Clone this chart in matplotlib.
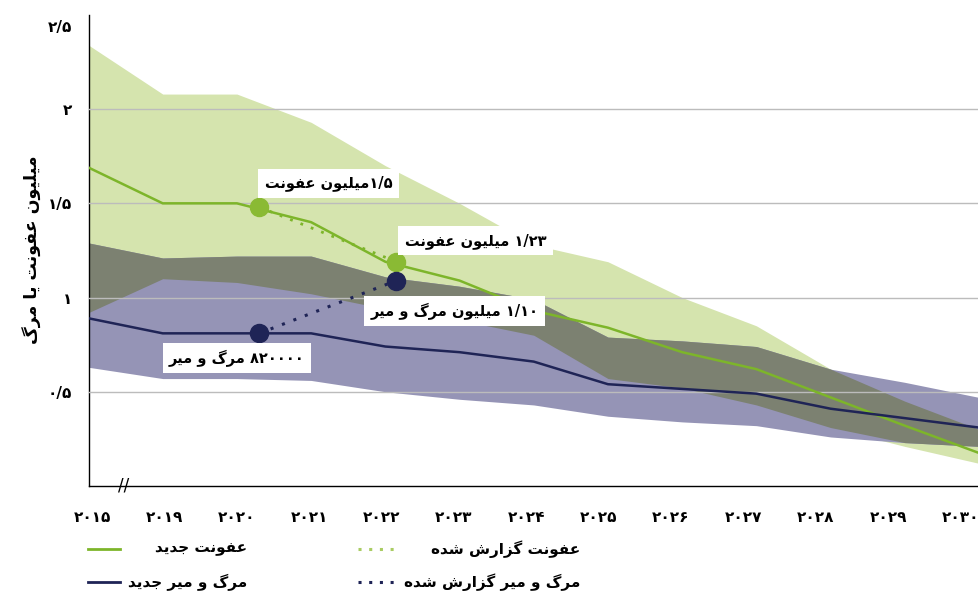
import re
import numpy as np
import matplotlib
matplotlib.use("Agg")
import matplotlib.pyplot as plt
from matplotlib.lines import Line2D
from matplotlib.transforms import ScaledTranslation

# data (million people)
years = ["۲۰۱۵", "۲۰۱۹", "۲۰۲۰", "۲۰۲۱", "۲۰۲۲", "۲۰۲۳", "۲۰۲۴",
         "۲۰۲۵", "۲۰۲۶", "۲۰۲۷", "۲۰۲۸", "۲۰۲۹", "۲۰۳۰"]
new_inf = [1.69, 1.50, 1.50, 1.40, 1.19, 1.09, 0.93, 0.84, 0.71, 0.62, 0.47, 0.32, 0.175]
inf_hi = [2.34, 2.08, 2.08, 1.93, 1.70, 1.50, 1.28, 1.19, 1.00, 0.85, 0.62, 0.45, 0.30]
inf_lo = [0.92, 1.10, 1.08, 1.02, 0.94, 0.88, 0.80, 0.57, 0.52, 0.43, 0.31, 0.21, 0.12]
new_death = [0.89, 0.81, 0.81, 0.81, 0.74, 0.71, 0.66, 0.54, 0.515, 0.49, 0.41, 0.36, 0.31]
death_hi = [1.29, 1.21, 1.22, 1.22, 1.11, 1.06, 0.99, 0.79, 0.77, 0.74, 0.62, 0.55, 0.47]
death_lo = [0.63, 0.57, 0.57, 0.56, 0.50, 0.46, 0.43, 0.37, 0.34, 0.32, 0.26, 0.23, 0.21]

# reported values (position on the year axis, value)
rep_x = [2.3, 4.15]
rep_inf = [1.48, 1.19]
rep_death = [0.81, 1.09]
rep_inf_txt = ["۱/۵میلیون عفونت", "۱/۲۳ میلیون عفونت"]
rep_death_txt = ["۸۲۰۰۰۰ مرگ و میر", "۱/۱۰ میلیون مرگ و میر"]

yticks = [0.5, 1, 1.5, 2, 2.5]
ytick_txt = ["۰/۵", "۱", "۱/۵", "۲", "۲/۵"]
ylabel_txt = "میلیون عفونت یا مرگ"
leg_txt = ["عفونت جدید", "مرگ و میر جدید", "عفونت گزارش شده", "مرگ و میر گزارش شده"]

# --- simple persian shaping (matplotlib has no bidi / joining) ---
FORMS = {
    'ا': ('\uFE8D', '\uFE8E', None, None),
    'د': ('\uFEA9', '\uFEAA', None, None),
    'ر': ('\uFEAD', '\uFEAE', None, None),
    'ز': ('\uFEAF', '\uFEB0', None, None),
    'و': ('\uFEED', '\uFEEE', None, None),
    'ت': ('\uFE95', '\uFE96', '\uFE97', '\uFE98'),
    'ج': ('\uFE9D', '\uFE9E', '\uFE9F', '\uFEA0'),
    'ش': ('\uFEB5', '\uFEB6', '\uFEB7', '\uFEB8'),
    'ع': ('\uFEC9', '\uFECA', '\uFECB', '\uFECC'),
    'ف': ('\uFED1', '\uFED2', '\uFED3', '\uFED4'),
    'ل': ('\uFEDD', '\uFEDE', '\uFEDF', '\uFEE0'),
    'م': ('\uFEE1', '\uFEE2', '\uFEE3', '\uFEE4'),
    'ن': ('\uFEE5', '\uFEE6', '\uFEE7', '\uFEE8'),
    'ه': ('\uFEE9', '\uFEEA', '\uFEEB', '\uFEEC'),
    'گ': ('\uFB92', '\uFB93', '\uFB94', '\uFB95'),
    'ی': ('\uFBFC', '\uFBFD', '\uFBFE', '\uFBFF'),
}
DIG = "۰۱۲۳۴۵۶۷۸۹"


def fa(s):
    out = []
    for i, ch in enumerate(s):
        if ch not in FORMS:
            out.append(ch)
            continue
        iso, fin, ini, med = FORMS[ch]
        prev = s[i - 1] if i > 0 else ''
        nxt = s[i + 1] if i + 1 < len(s) else ''
        jp = prev in FORMS and FORMS[prev][2] is not None
        jn = ini is not None and nxt in FORMS
        if jp and jn:
            out.append(med)
        elif jp:
            out.append(fin)
        elif jn:
            out.append(ini)
        else:
            out.append(iso)
    t = ''.join(out)
    runs = re.findall('[' + DIG + ']+(?:/[' + DIG + ']+)*|[^' + DIG + ']+', t)
    return ''.join(r if r[0] in DIG else r[::-1] for r in reversed(runs))


plt.rcParams['font.family'] = ['DejaVu Sans']
plt.rcParams['font.weight'] = 'bold'

GREEN = '#7db52a'
NAVY = '#1f2456'
LGREEN = '#d5e4ae'
LAV = '#9594b6'
OVER = '#7c8171'

fig = plt.figure(figsize=(9.79, 5.97), dpi=100)
ax = fig.add_axes([0.0904, 0.186, 0.9096, 0.789])

x = np.arange(len(years))
ax.fill_between(x, inf_lo, inf_hi, color=LGREEN, lw=0, zorder=1)
ax.fill_between(x, death_lo, death_hi, color=LAV, lw=0, zorder=1)
ov_lo = np.maximum(inf_lo, death_lo)
ov_hi = np.minimum(inf_hi, death_hi)
ax.fill_between(x, ov_lo, ov_hi, where=ov_hi > ov_lo, interpolate=True,
                color=OVER, lw=0, zorder=1.5)

ax.plot(x, new_inf, color=GREEN, lw=1.8, zorder=3)
ax.plot(x, new_death, color=NAVY, lw=1.8, zorder=3)

ax.plot(rep_x, rep_inf, ls=(0, (1, 3)), color=GREEN, lw=2, zorder=3)
ax.plot(rep_x, rep_death, ls=(0, (1, 3)), color=NAVY, lw=2.2, zorder=3)
ax.plot(rep_x, rep_inf, 'o', color='#8aba34', ms=13, zorder=4)
ax.plot(rep_x, rep_death, 'o', color=NAVY, ms=13, zorder=4)

box = dict(boxstyle='square,pad=0.45', fc='white', ec='none')
offs_inf = [(50, 17), (57, 15)]
offs_death = [(-16, -18), (42, -22)]
for i in range(2):
    ax.annotate(fa(rep_inf_txt[i]), (rep_x[i], rep_inf[i]), xytext=offs_inf[i],
                textcoords='offset points', ha='center', va='center',
                fontsize=10.5, bbox=box, zorder=5)
    ax.annotate(fa(rep_death_txt[i]), (rep_x[i], rep_death[i]), xytext=offs_death[i],
                textcoords='offset points', ha='center', va='center',
                fontsize=10.5, bbox=box, zorder=5)

ax.set_xlim(0, 12)
ax.set_ylim(0, 2.5)
ax.set_yticks(yticks)
ax.set_yticklabels([fa(t) for t in ytick_txt], fontsize=11)
ax.set_xticks(np.arange(len(years)) * 0.975 + 0.05)
ax.set_xticklabels([fa(t) for t in years], fontsize=11)
ax.tick_params(axis='both', length=0)
ax.tick_params(axis='y', pad=12)
ax.tick_params(axis='x', pad=17)
# top label sits a little lower in the original
top_lbl = ax.get_yticklabels()[-1]
top_lbl.set_transform(top_lbl.get_transform() + ScaledTranslation(0, -0.11, fig.dpi_scale_trans))

ax.set_axisbelow(False)
ax.yaxis.grid(True, color='#bcbcbc', lw=1)
ax.get_ygridlines()[-1].set_visible(False)
for s in ['top', 'right']:
    ax.spines[s].set_visible(False)
ax.spines['left'].set_linewidth(1)
ax.spines['bottom'].set_linewidth(1)

ax.annotate('//', (0.04, 0), xycoords='axes fraction', ha='center', va='center',
            fontsize=12, fontweight='normal', annotation_clip=False)

fig.text(32 / 979, 1 - 250 / 597, fa(ylabel_txt), rotation=90, ha='center',
         va='center', fontsize=12.5)

# legend, drawn by hand (text right aligned, sample to the left)
leg_style = [(GREEN, '-'), (NAVY, '-'), ('#a9cc62', (0, (1, 2.5))), (NAVY, (0, (1, 2.5)))]
leg_pos = [(88, 120, 247, 549), (88, 120, 247, 582), (358, 400, 580, 549), (358, 400, 580, 582)]
for (c, ls), (x0, x1, tx, ty), t in zip(leg_style, leg_pos, leg_txt):
    yy = 1 - ty / 597
    fig.add_artist(Line2D([x0 / 979, x1 / 979], [yy, yy], color=c, ls=ls,
                          lw=2 if ls == '-' else 2.2))
    fig.text(tx / 979, yy, fa(t), ha='right', va='center', fontsize=11)

fig.savefig('out.png', dpi=100)
